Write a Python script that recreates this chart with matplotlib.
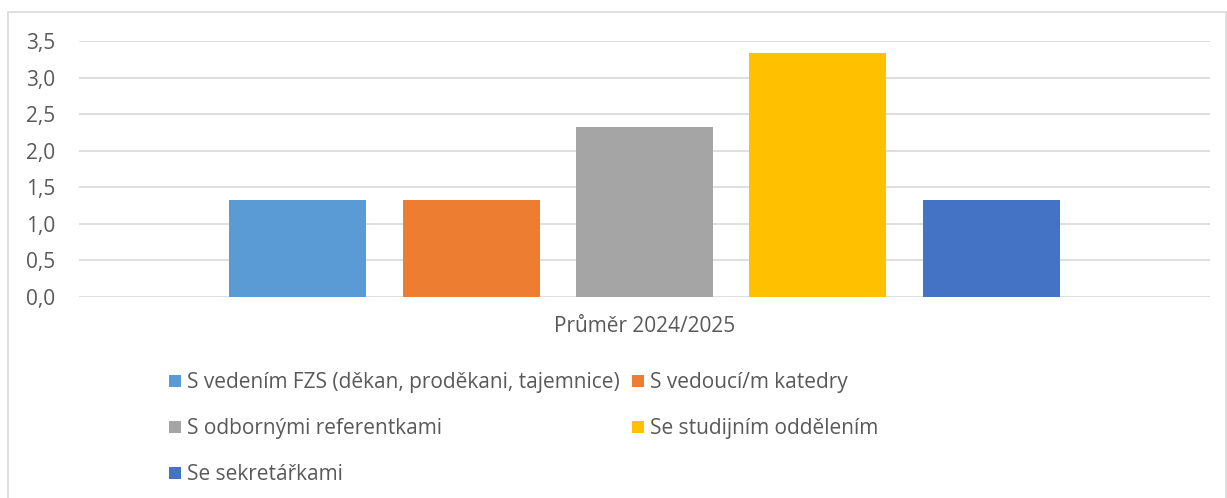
import matplotlib.pyplot as plt
from matplotlib.patches import Rectangle

# data
series = ["S vedením FZS (děkan, proděkani, tajemnice)", "S vedoucí/m katedry",
          "S odbornými referentkami", "Se studijním oddělením", "Se sekretářkami"]
values = [1.33, 1.33, 2.33, 3.33, 1.33]
colors = ["#5B9BD5", "#ED7D31", "#A5A5A5", "#FFC000", "#4472C4"]
category = "Průměr 2024/2025"
yticks = [0.0, 0.5, 1.0, 1.5, 2.0, 2.5, 3.0, 3.5]

plt.rcParams['font.family'] = ['Open Sans', 'DejaVu Sans']
text_color = '#595959'
grid_color = '#D9D9D9'
fs = 15

W, H = 1227, 498
fig = plt.figure(figsize=(W / 100, H / 100), dpi=100)
ax = fig.add_axes([79 / W, 1 - 297 / H, (1210 - 79) / W, (297 - 41) / H])

bars = []
for i, (name, v, c) in enumerate(zip(series, values, colors)):
    bars.append(ax.bar(i, v, width=0.79, color=c, label=name, zorder=3))

ax.set_xlim(-1.26, 5.26)
ax.set_ylim(0, 3.5)
ax.set_yticks(yticks)
ax.set_yticklabels([f"{t:.1f}".replace('.', ',') for t in yticks],
                   fontsize=fs, color=text_color)
ax.set_xticks([])
ax.tick_params(axis='y', length=0, pad=17)
for s in ax.spines.values():
    s.set_visible(False)
ax.grid(axis='y', color=grid_color, linewidth=1.2, zorder=0)

fig.text(645 / W, 1 - 327 / H, category, ha='center', va='center',
         fontsize=fs, color=text_color)

# Excel fills legend row-wise, matplotlib column-wise: reorder
order = [0, 2, 4, 1, 3]
leg = fig.legend([bars[i] for i in order], [series[i] for i in order],
                 ncol=2, loc='upper left', bbox_to_anchor=(161 / W, 1 - 364 / H),
                 frameon=False, fontsize=fs, handlelength=0.58, handleheight=0.58,
                 handletextpad=0.29, columnspacing=0.55, labelspacing=1.2,
                 borderaxespad=0)
for t in leg.get_texts():
    t.set_color(text_color)

# chart area border
fig.patches.append(Rectangle((8 / W, -0.05), (1226 - 8) / W, 1.05 - 12 / H,
                             transform=fig.transFigure, fill=False,
                             edgecolor=grid_color, linewidth=1.2))

fig.savefig('out.png', dpi=100)
